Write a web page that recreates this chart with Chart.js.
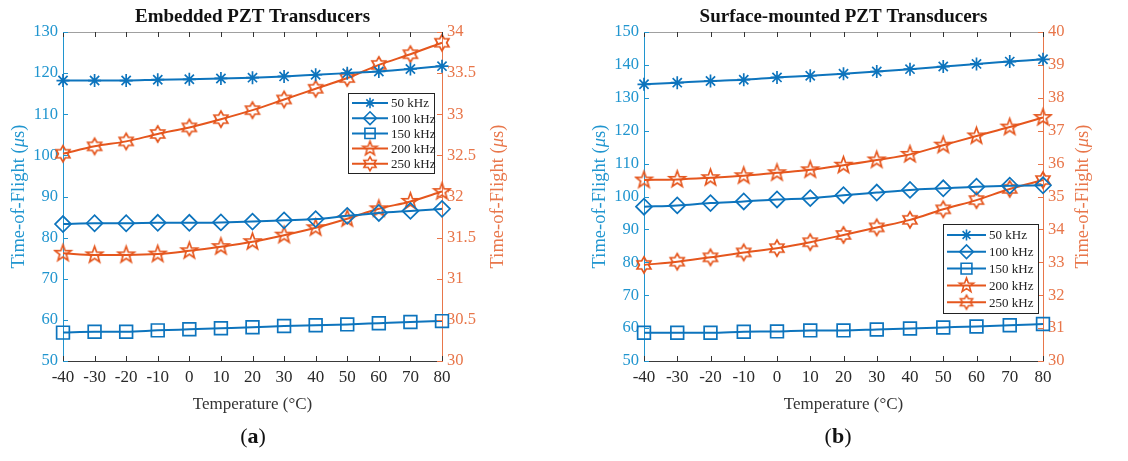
<!DOCTYPE html>
<html><head><meta charset="utf-8">
<script src="https://cdn.jsdelivr.net/npm/chart.js@4.4.1/dist/chart.umd.min.js"></script>
<style>
html,body{margin:0;padding:0;background:#fff;}
body{width:1128px;height:461px;position:relative;overflow:hidden;}
.wrap{position:absolute;top:0;height:461px;}
.cap{position:absolute;top:423px;font:22px 'Liberation Serif',serif;color:#111;transform:translateX(-50%);white-space:nowrap;}
.cap b{font-weight:bold;}
</style></head>
<body>
<div class="wrap" style="left:0;width:565px;"><canvas id="ca" width="565" height="461"></canvas></div>
<div class="wrap" style="left:565px;width:563px;"><canvas id="cb" width="563" height="461"></canvas></div>
<div class="cap" style="left:253px;">(<b>a</b>)</div>
<div class="cap" style="left:838px;">(<b>b</b>)</div>
<script>
// ---------- data ----------
const temperatures = [-40,-30,-20,-10,0,10,20,30,40,50,60,70,80];
const seriesNames = ['50 kHz','100 kHz','150 kHz','200 kHz','250 kHz'];
// Panel (a) Embedded
const embedded50  = [118.2,118.2,118.2,118.4,118.5,118.7,118.9,119.2,119.6,120.0,120.4,121.0,121.7];
const embedded100 = [83.3,83.5,83.5,83.6,83.6,83.7,83.9,84.2,84.5,85.3,86.0,86.5,87.0];
const embedded150 = [56.9,57.1,57.1,57.45,57.7,57.95,58.2,58.5,58.7,58.9,59.2,59.5,59.7];
const embedded200 = [31.31,31.29,31.29,31.30,31.34,31.39,31.45,31.53,31.62,31.73,31.85,31.94,32.06];
const embedded250 = [32.52,32.61,32.67,32.76,32.84,32.94,33.05,33.18,33.31,33.44,33.60,33.73,33.87];
// Panel (b) Surface-mounted
const surface50  = [134.1,134.6,135.1,135.5,136.2,136.7,137.3,138.0,138.7,139.5,140.3,141.0,141.7];
const surface100 = [96.9,97.3,98.0,98.5,99.1,99.5,100.4,101.2,102.0,102.5,103.0,103.3,103.4];
const surface150 = [58.6,58.6,58.6,58.9,59.0,59.3,59.3,59.6,59.9,60.2,60.5,60.85,61.25];
const surface200 = [35.50,35.52,35.57,35.63,35.72,35.81,35.95,36.11,36.28,36.56,36.84,37.11,37.40];
const surface250 = [32.92,33.02,33.15,33.30,33.43,33.61,33.83,34.06,34.29,34.61,34.89,35.23,35.50];
// axis ranges / ticks
const embeddedLeftTicks  = [50,60,70,80,90,100,110,120,130];
const embeddedRightTicks = [30,30.5,31,31.5,32,32.5,33,33.5,34];
const surfaceLeftTicks   = [50,60,70,80,90,100,110,120,130,140,150];
const surfaceRightTicks  = [30,31,32,33,34,35,36,37,38,39,40];

// ---------- styles ----------
const BLUE = '#0d74bd', ORANGE = '#e5561d';
const BLUE_AX = '#2095cf', ORANGE_AX = '#e8764a';
const SERIF = "'Liberation Serif', 'Times New Roman', serif";
const fmtTick = v => String(Math.round(v * 10) / 10);

function makeStar(n, rOut, rIn, color, lw) {
  const s = Math.ceil(2 * rOut + lw * 2 + 2);
  const c = document.createElement('canvas');
  c.width = s; c.height = s;
  const g = c.getContext('2d');
  g.strokeStyle = color; g.lineWidth = lw; g.lineJoin = 'miter';
  g.beginPath();
  for (let i = 0; i < 2 * n; i++) {
    const r = i % 2 === 0 ? rOut : rIn;
    const ang = -Math.PI / 2 + i * Math.PI / n;
    const px = s / 2 + r * Math.cos(ang), py = s / 2 + r * Math.sin(ang);
    if (i === 0) g.moveTo(px, py); else g.lineTo(px, py);
  }
  g.closePath(); g.stroke();
  return c;
}
const pentagram = makeStar(5, 8.5, 3.5, ORANGE, 1.7);
const hexagram  = makeStar(6, 8, 4.6, ORANGE, 1.7);
const pentagramSmall = makeStar(5, 7.5, 3.1, ORANGE, 1.6);
const hexagramSmall  = makeStar(6, 7, 4.0, ORANGE, 1.6);

const markerStyles = [
  {pointStyle:'star', radius:6.5, color:BLUE, legendStyle:'star'},
  {pointStyle:'rectRot', radius:8, color:BLUE, legendStyle:'rectRot'},
  {pointStyle:'rect', radius:9, color:BLUE, legendStyle:'rect'},
  {pointStyle:pentagram, radius:8, color:ORANGE, legendStyle:pentagramSmall},
  {pointStyle:hexagram, radius:8, color:ORANGE, legendStyle:hexagramSmall}
];

function ds(i, values, axis) {
  const m = markerStyles[i];
  return {
    label: seriesNames[i], data: values, yAxisID: axis,
    borderColor: m.color, backgroundColor: 'rgba(0,0,0,0)',
    borderWidth: 2, tension: 0.3, cubicInterpolationMode: 'monotone',
    pointStyle: m.pointStyle, pointRadius: m.radius, pointHoverRadius: m.radius,
    pointBorderColor: m.color, pointBackgroundColor: 'rgba(0,0,0,0)', pointBorderWidth: 1.7
  };
}

const decor = {
  id: 'decor',
  afterDraw(chart, args, o) {
    const ctx = chart.ctx, a = chart.chartArea;
    const xs = chart.scales.x, yl = chart.scales.yL, yr = chart.scales.yR;
    ctx.save();
    // top box line
    ctx.strokeStyle = '#a0a0a0'; ctx.lineWidth = 1;
    ctx.beginPath(); ctx.moveTo(a.left, a.top + 0.5); ctx.lineTo(a.right, a.top + 0.5); ctx.stroke();
    // x ticks (inward, bottom and top)
    ctx.strokeStyle = '#333';
    xs.ticks.forEach((t, i) => {
      const px = Math.round(xs.getPixelForTick(i)) + 0.5;
      ctx.beginPath();
      ctx.moveTo(px, a.bottom); ctx.lineTo(px, a.bottom - 5);
      ctx.moveTo(px, a.top); ctx.lineTo(px, a.top + 5);
      ctx.stroke();
    });
    ctx.strokeStyle = BLUE_AX;
    yl.ticks.forEach((t, i) => {
      const py = Math.round(yl.getPixelForTick(i)) + 0.5;
      ctx.beginPath(); ctx.moveTo(a.left, py); ctx.lineTo(a.left + 5, py); ctx.stroke();
    });
    ctx.strokeStyle = ORANGE_AX;
    yr.ticks.forEach((t, i) => {
      const py = Math.round(yr.getPixelForTick(i)) + 0.5;
      ctx.beginPath(); ctx.moveTo(a.right, py); ctx.lineTo(a.right - 5, py); ctx.stroke();
    });
    // title
    ctx.fillStyle = '#111';
    ctx.font = 'bold 19px ' + SERIF;
    ctx.textAlign = 'center'; ctx.textBaseline = 'middle';
    ctx.fillText(o.title, (a.left + a.right) / 2, 17);
    // x title
    ctx.fillStyle = '#333';
    ctx.font = '17px ' + SERIF;
    ctx.fillText('Temperature (\u00B0C)', (a.left + a.right) / 2, 405);
    // y titles with italic mu
    const FS = 18.5;
    const drawYTitle = (cx, color) => {
      ctx.save();
      ctx.translate(cx, (a.top + a.bottom) / 2);
      ctx.rotate(-Math.PI / 2);
      ctx.fillStyle = color; ctx.textBaseline = 'middle'; ctx.textAlign = 'left';
      const p1 = 'Time-of-Flight (', p2 = '\u03BC', p3 = 's)';
      ctx.font = FS + 'px ' + SERIF; const w1 = ctx.measureText(p1).width, w3 = ctx.measureText(p3).width;
      ctx.font = 'italic ' + FS + 'px ' + SERIF; const w2 = ctx.measureText(p2).width;
      let x0 = -(w1 + w2 + w3) / 2;
      ctx.font = FS + 'px ' + SERIF; ctx.fillText(p1, x0, 0); x0 += w1;
      ctx.font = 'italic ' + FS + 'px ' + SERIF; ctx.fillText(p2, x0, 0); x0 += w2;
      ctx.font = FS + 'px ' + SERIF; ctx.fillText(p3, x0, 0);
      ctx.restore();
    };
    drawYTitle(o.leftTitleX, BLUE_AX);
    drawYTitle(o.rightTitleX, ORANGE_AX);
    // legend
    const L = o.legend;
    ctx.fillStyle = '#fff'; ctx.fillRect(L.x, L.y, L.w, L.h);
    ctx.strokeStyle = '#222'; ctx.lineWidth = 1;
    ctx.strokeRect(Math.round(L.x) + 0.5, Math.round(L.y) + 0.5, L.w, L.h);
    ctx.font = L.font + 'px ' + SERIF; ctx.textAlign = 'left'; ctx.textBaseline = 'middle';
    chart.data.datasets.forEach((d, i) => {
      const yy = L.y + L.first + i * L.step;
      const m = markerStyles[i];
      ctx.strokeStyle = d.borderColor; ctx.lineWidth = 2;
      ctx.beginPath(); ctx.moveTo(L.x + L.l0, yy); ctx.lineTo(L.x + L.l1, yy); ctx.stroke();
      ctx.fillStyle = 'rgba(0,0,0,0)'; ctx.strokeStyle = d.borderColor; ctx.lineWidth = 1.6;
      Chart.helpers.drawPoint(ctx, {pointStyle: m.legendStyle, radius: d.pointRadius * L.ms, borderWidth: 1.6, rotation: 0}, L.x + (L.l0 + L.l1) / 2, yy);
      ctx.fillStyle = '#222';
      ctx.fillText(d.label, L.x + L.tx, yy + 1);
    });
    ctx.restore();
  }
};

function build(id, cw, plotL, plotR, sets, yLmin, yLmax, yLstep, yRmin, yRmax, yRstep, decorOpts) {
  return new Chart(document.getElementById(id), {
    type: 'line',
    data: { labels: temperatures.map(String), datasets: sets },
    options: {
      responsive: false, animation: false, devicePixelRatio: 1,
      layout: { padding: { top: 32, left: 0, right: 0, bottom: 0 } },
      plugins: { legend: { display: false }, tooltip: { enabled: false }, title: { display: false }, decor: decorOpts },
      scales: {
        x: {
          type: 'category', offset: false,
          grid: { display: false, drawTicks: false },
          border: { display: true, color: '#3a3a3a', width: 1 },
          ticks: { color: '#2a2a2a', font: { family: SERIF, size: 17 }, padding: 6, maxRotation: 0, autoSkip: false },
          afterFit: s => { s.height = 100; }
        },
        yL: {
          type: 'linear', position: 'left', min: yLmin, max: yLmax,
          grid: { display: false, drawTicks: false },
          border: { display: true, color: BLUE_AX, width: 1 },
          ticks: { stepSize: yLstep, color: BLUE_AX, font: { family: SERIF, size: 16.5 }, padding: 5, callback: fmtTick },
          afterFit: s => { s.width = plotL; }
        },
        yR: {
          type: 'linear', position: 'right', min: yRmin, max: yRmax,
          grid: { display: false, drawTicks: false },
          border: { display: true, color: ORANGE_AX, width: 1 },
          ticks: { stepSize: yRstep, color: ORANGE_AX, font: { family: SERIF, size: 16.5 }, padding: 5, callback: fmtTick },
          afterFit: s => { s.width = cw - plotR; }
        }
      }
    },
    plugins: [decor]
  });
}

build('ca', 565, 63, 442, [
  ds(0, embedded50, 'yL'), ds(1, embedded100, 'yL'), ds(2, embedded150, 'yL'),
  ds(3, embedded200, 'yR'), ds(4, embedded250, 'yR')
], embeddedLeftTicks[0], embeddedLeftTicks[embeddedLeftTicks.length-1], 10,
   embeddedRightTicks[0], embeddedRightTicks[embeddedRightTicks.length-1], 0.5,
  { title: 'Embedded PZT Transducers', leftTitleX: 19, rightTitleX: 498,
    legend: { x: 348, y: 93, w: 86, h: 80, first: 10, step: 15.2, l0: 4, l1: 40, tx: 43, font: 13, ms: 0.8 } });

build('cb', 563, 79, 478, [
  ds(0, surface50, 'yL'), ds(1, surface100, 'yL'), ds(2, surface150, 'yL'),
  ds(3, surface200, 'yR'), ds(4, surface250, 'yR')
], surfaceLeftTicks[0], surfaceLeftTicks[surfaceLeftTicks.length-1], 10,
   surfaceRightTicks[0], surfaceRightTicks[surfaceRightTicks.length-1], 1,
  { title: 'Surface-mounted PZT Transducers', leftTitleX: 35, rightTitleX: 518,
    legend: { x: 378, y: 224, w: 95, h: 89, first: 11, step: 16.8, l0: 4, l1: 43, tx: 46, font: 13, ms: 0.85 } });
</script>
</body></html>
